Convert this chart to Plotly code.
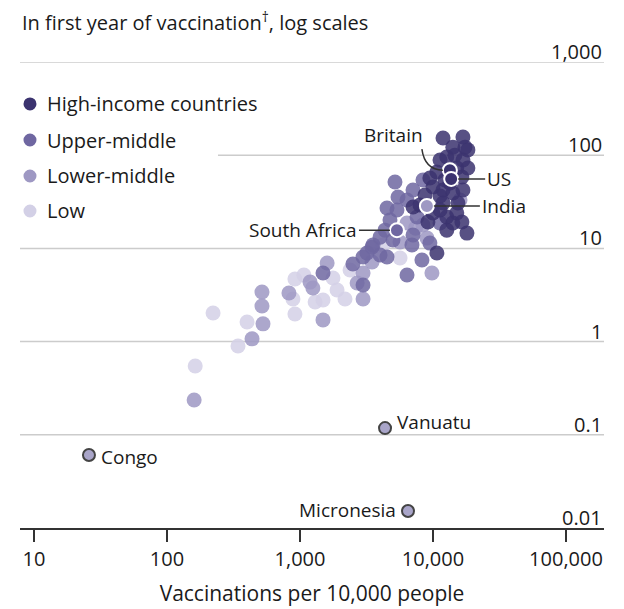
import numpy as np
import plotly.graph_objects as go

# Income groups (legend order) and colours
groups = ["High-income countries", "Upper-middle", "Lower-middle", "Low"]
group_colors = ["#3b336f", "#6f67a1", "#9e98c3", "#d3d0e6"]

# Low income
low_x = [222, 163, 400, 342, 885, 916, 916, 1770, 1300, 1490, 1900, 2180, 2380, 4210, 5650, 1070]
low_y = [2.03, 0.547, 1.62, 0.898, 2.86, 1.98, 4.70, 4.81, 2.66, 2.79, 3.58, 2.86, 5.86, 10.9, 7.89, 5.19]

# Lower-middle income
lm_x = [160, 518, 518, 527, 436, 826, 1190, 1250, 1600, 1490, 2980, 2690, 2980, 9820, 6380,
        8410, 9020, 5650, 15970, 3480, 7400]
lm_y = [0.236, 3.40, 2.41, 1.55, 1.07, 3.32, 4.35, 3.76, 6.96, 1.71, 5.44, 4.26, 2.86, 5.44, 18.7,
        17.8, 12.9, 11.7, 33.0, 7.15, 16.5]

# Upper-middle income
um_x = [1490, 2500, 2980, 2980, 3480, 4000, 5000, 6380, 6950, 8260, 9480, 8410, 5180, 7080,
        5460, 6380, 5360, 4510, 7590, 4750, 11300, 3540, 7080, 4510, 3190, 4360, 4000]
um_y = [5.44, 6.81, 8.09, 4.05, 10.3, 8.49, 12.3, 5.19, 10.9, 7.52, 11.4, 54.2, 51.5, 42.4,
        35.6, 33.0, 25.8, 27.1, 21.7, 20.2, 18.7, 10.9, 13.9, 8.09, 8.93, 15.7, 13.2]

# High income
hi_x = [11900, 16800, 17400, 14100, 12700, 16800, 15100, 10700, 9480, 16500, 10000, 11900,
        16800, 14100, 7080, 11900, 10000, 12700, 15100, 14100, 12700, 18000, 10700, 13400,
        11300, 15400, 8710, 18300, 11300, 7980, 16500, 9160, 14600, 12300, 18300, 11300]
hi_y = [153, 157, 122, 122, 95.7, 88.8, 72.9, 66.1, 56.9, 58.3, 45.6, 42.4,
        42.4, 39.3, 27.8, 30.7, 24.0, 21.7, 24.0, 18.7, 15.7, 14.6, 8.93, 50.4,
        36.5, 30.7, 37.4, 72.9, 88.8, 29.2, 19.2, 19.2, 100, 54.2, 114, 25.8]

# Labelled countries
hl_names = ["Britain", "US", "India", "South Africa"]
hl_x = [13400, 13700, 9000, 5360]
hl_y = [69, 55.6, 28.5, 15.7]
hl_group = [0, 0, 2, 1]

out_names = ["Vanuatu", "Congo", "Micronesia"]
out_x = [4360, 25.9, 6490]
out_y = [0.118, 0.0607, 0.0152]

x_ticks = [10, 100, 1000, 10000, 100000]
x_ticktext = ["10", "100", "1,000", "10,000", "100,000"]
y_ticks = [0.1, 1, 10, 100, 1000]
y_ticktext = ["0.1", "1", "10", "100", "1,000"]

FONT = "Open Sans"
TXT = "#1a1a1a"
FS = 20

fig = go.Figure()

series = [(low_x, low_y, 3), (lm_x, lm_y, 2), (um_x, um_y, 1), (hi_x, hi_y, 0)]
for xs, ys, g in series:
    fig.add_trace(go.Scatter(
        x=xs, y=ys, mode="markers",
        marker=dict(size=15, color=group_colors[g], opacity=0.85, line=dict(width=0)),
        showlegend=False, hoverinfo="skip"
    ))

# highlighted countries with white rings
fig.add_trace(go.Scatter(
    x=hl_x, y=hl_y, mode="markers",
    marker=dict(size=14, color=[group_colors[g] for g in hl_group],
                line=dict(width=2, color="white")),
    showlegend=False, hoverinfo="skip"
))

# outliers
fig.add_trace(go.Scatter(
    x=out_x, y=out_y, mode="markers",
    marker=dict(size=12, color="#a9a5c9", line=dict(width=2, color="#444444")),
    showlegend=False, hoverinfo="skip"
))

# gridlines
for v in y_ticks:
    fig.add_shape(type="line", xref="paper", yref="y",
                  x0=0.339 if v == 100 else 0, x1=1, y0=v, y1=v,
                  line=dict(color="#cccccc", width=1.5), layer="below")

# right-hand y labels
for v, t in zip([0.01] + y_ticks, ["0.01"] + y_ticktext):
    fig.add_annotation(x=1, xref="paper", y=np.log10(v), yref="y", text=t,
                       xanchor="right", yanchor="bottom", showarrow=False,
                       font=dict(family=FONT, size=FS, color=TXT), yshift=-5)

# legend
leg_y = [0.910, 0.8326, 0.7554, 0.6803]
for name, col, py in zip(groups, group_colors, leg_y):
    fig.add_shape(type="circle", xref="paper", yref="paper",
                  xsizemode="pixel", ysizemode="pixel",
                  xanchor=0.0171, yanchor=py, x0=-6.5, x1=6.5, y0=-6.5, y1=6.5,
                  fillcolor=col, line=dict(width=0))
    fig.add_annotation(x=0.0428, y=py, xref="paper", yref="paper", text=name,
                       xanchor="left", yanchor="middle", showarrow=False,
                       font=dict(family=FONT, size=FS, color=TXT))

# labels with leader lines
lab_font = dict(family=FONT, size=19, color=TXT)
fig.add_annotation(x=np.log10(hl_x[1]), y=np.log10(hl_y[1]), text="US", showarrow=True,
                   ax=34, ay=0, xanchor="left", arrowhead=0, arrowwidth=1.5,
                   arrowcolor="#333333", standoff=7, font=lab_font)
fig.add_annotation(x=np.log10(hl_x[2]), y=np.log10(hl_y[2]), text="India", showarrow=True,
                   ax=53, ay=0, xanchor="left", arrowhead=0, arrowwidth=1.5,
                   arrowcolor="#333333", standoff=7, font=lab_font)
fig.add_annotation(x=np.log10(hl_x[3]), y=np.log10(hl_y[3]), text="South Africa", showarrow=True,
                   ax=-38, ay=0, xanchor="right", arrowhead=0, arrowwidth=1.5,
                   arrowcolor="#333333", standoff=7, font=lab_font)
fig.add_annotation(x=np.log10(hl_x[0]), y=np.log10(hl_y[0]), text="Britain", showarrow=False,
                   xshift=-56, yshift=35, font=lab_font)
fig.add_shape(type="path", xref="x", yref="y", xsizemode="pixel", ysizemode="pixel",
              xanchor=hl_x[0], yanchor=hl_y[0], path="M-28,21 Q-25,0 -7,0",
              line=dict(color="#333333", width=1.5))

fig.add_annotation(x=np.log10(out_x[0]), y=np.log10(out_y[0]), text="Vanuatu", showarrow=False,
                   xanchor="left", xshift=10, yshift=6, font=lab_font)
fig.add_annotation(x=np.log10(out_x[1]), y=np.log10(out_y[1]), text="Congo", showarrow=False,
                   xanchor="left", xshift=10, yshift=-2, font=lab_font)
fig.add_annotation(x=np.log10(out_x[2]), y=np.log10(out_y[2]), text="Micronesia", showarrow=False,
                   xanchor="right", xshift=-10, yshift=1, font=lab_font)

# subtitle
fig.add_annotation(x=0, y=1.087, xref="paper", yref="paper", xanchor="left", yanchor="middle",
                   text="In first year of vaccination<sup>†</sup>, log scales", showarrow=False,
                   font=dict(family=FONT, size=FS, color=TXT))

# page body has an 8px margin, so the figure is offset by 8px
fig.update_layout(
    width=616, height=601,
    margin=dict(l=12, r=20, t=54, b=81, autoexpand=False),
    plot_bgcolor="white", paper_bgcolor="white",
    font=dict(family=FONT, size=FS, color=TXT),
    xaxis=dict(type="log", range=[0.8947, 5.286], tickvals=x_ticks, ticktext=x_ticktext,
               ticks="outside", ticklen=12, tickwidth=1.5, tickcolor="#333333",
               showline=True, linecolor="#333333", linewidth=1.5, showgrid=False,
               zeroline=False, automargin=False,
               tickfont=dict(family=FONT, size=FS, color=TXT),
               title=dict(text="Vaccinations per 10,000 people", standoff=16,
                          font=dict(family=FONT, size=21, color=TXT))),
    yaxis=dict(type="log", range=[-2, 3], showgrid=False, zeroline=False,
               showticklabels=False, ticks=""),
    showlegend=False
)

fig.write_html("out.html")
